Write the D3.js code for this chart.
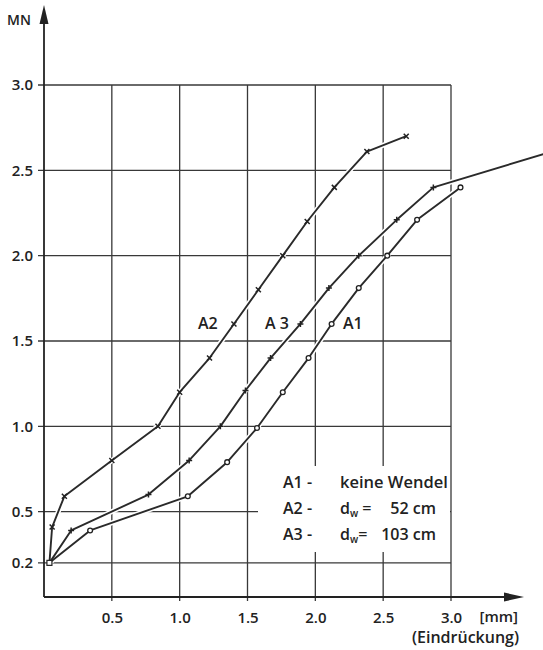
<!DOCTYPE html>
<html>
<head>
<meta charset="utf-8">
<script src="https://cdn.jsdelivr.net/npm/d3@7"></script>
<style>
  body { margin: 0; background: #fff; }
  svg { display: block; }
  text { font-family: "Open Sans", "Liberation Sans", sans-serif; font-weight: 600; fill: #222; }
</style>
</head>
<body>
<svg id="chart"></svg>
<script>
const width = 543
const height = 650

// tick values
const xTicks = [0.5, 1.0, 1.5, 2.0, 2.5, 3.0]
const yTicks = [0.2, 0.5, 1.0, 1.5, 2.0, 2.5, 3.0]

// curves (x in mm, y in MN)
const a1X = [0.04, 0.34, 1.06, 1.35, 1.57, 1.76, 1.95, 2.12, 2.32, 2.53, 2.75, 3.07]
const a1Y = [0.20, 0.39, 0.59, 0.79, 0.99, 1.20, 1.40, 1.60, 1.81, 2.00, 2.21, 2.40]
const a2X = [0.04, 0.06, 0.15, 0.50, 0.84, 1.00, 1.22, 1.40, 1.58, 1.76, 1.94, 2.14, 2.38, 2.67]
const a2Y = [0.20, 0.41, 0.59, 0.80, 1.00, 1.20, 1.40, 1.60, 1.80, 2.00, 2.20, 2.40, 2.61, 2.70]
const a3X = [0.04, 0.20, 0.77, 1.07, 1.30, 1.485, 1.67, 1.89, 2.10, 2.32, 2.60, 2.87, 3.68]
const a3Y = [0.20, 0.39, 0.60, 0.80, 1.00, 1.21, 1.40, 1.60, 1.81, 2.00, 2.21, 2.40, 2.595]

const series = [
  {name: 'A1', xs: a1X, ys: a1Y, marker: 'circle', markLast: true},
  {name: 'A2', xs: a2X, ys: a2Y, marker: 'cross', markLast: true},
  {name: 'A3', xs: a3X, ys: a3Y, marker: 'plus', markLast: false}
]

const legendLines = [
  ['A1', 'keine Wendel', null],
  ['A2', '52 cm', 'w'],
  ['A3', '103 cm', 'w']
]

const x = d3.scaleLinear().domain([0, 3]).range([44, 451])
const y = d3.scaleLinear().domain([0, 3]).range([597, 85])

const svg = d3.select('#chart')
  .attr('width', width)
  .attr('height', height)

svg.append('rect').attr('width', width).attr('height', height).attr('fill', '#fff')

const gridColor = '#383838'

// grid
svg.append('g')
  .selectAll('line')
  .data(yTicks)
  .join('line')
  .attr('x1', x(0) - 6)
  .attr('x2', x(3))
  .attr('y1', d => y(d))
  .attr('y2', d => y(d))
  .attr('stroke', gridColor)
  .attr('stroke-width', 1.3)

svg.append('g')
  .selectAll('line')
  .data(xTicks)
  .join('line')
  .attr('x1', d => x(d))
  .attr('x2', d => x(d))
  .attr('y1', y(0) + 4)
  .attr('y2', y(3))
  .attr('stroke', gridColor)
  .attr('stroke-width', 1.3)

// legend background hides part of the grid
svg.append('rect')
  .attr('x', 258).attr('y', 466)
  .attr('width', 192).attr('height', 86)
  .attr('fill', '#fff')

// axes with arrows
svg.append('line')
  .attr('x1', x(0)).attr('x2', x(0))
  .attr('y1', y(0)).attr('y2', 14)
  .attr('stroke', '#222').attr('stroke-width', 1.8)
svg.append('path')
  .attr('d', `M${x(0)},5 L${x(0) - 4.5},24 L${x(0) + 4.5},24 Z`)
  .attr('fill', '#222')

svg.append('line')
  .attr('x1', x(0)).attr('x2', 510)
  .attr('y1', y(0)).attr('y2', y(0))
  .attr('stroke', '#222').attr('stroke-width', 1.8)
svg.append('path')
  .attr('d', `M524,${y(0)} L504,${y(0) - 4.5} L504,${y(0) + 4.5} Z`)
  .attr('fill', '#222')

// tick labels through d3 axes
const yAxis = svg.append('g')
  .attr('transform', `translate(${x(0)},0)`)
  .call(d3.axisLeft(y).tickValues(yTicks).tickSize(0).tickPadding(11).tickFormat(d3.format('.1f')))
yAxis.select('.domain').remove()
yAxis.selectAll('text')
  .style('font-family', '"Open Sans", "Liberation Sans", sans-serif')
  .style('font-size', '15px').style('font-weight', '600').attr('fill', '#222')

const xAxis = svg.append('g')
  .attr('transform', `translate(0,${y(0)})`)
  .call(d3.axisBottom(x).tickValues(xTicks).tickSize(0).tickPadding(15).tickFormat(d3.format('.1f')))
xAxis.select('.domain').remove()
xAxis.selectAll('text')
  .style('font-family', '"Open Sans", "Liberation Sans", sans-serif')
  .style('font-size', '15px').style('font-weight', '600').attr('fill', '#222')

svg.append('text').attr('x', 7).attr('y', 25)
  .style('font-size', '14px').text('MN')
svg.append('text').attr('x', 518).attr('y', 622).attr('text-anchor', 'end')
  .style('font-size', '15px').text('[mm]')
svg.append('text').attr('x', 519).attr('y', 643).attr('text-anchor', 'end')
  .style('font-size', '16px').text('(Eindrückung)')

// curves
const line = d3.line().x(d => x(d[0])).y(d => y(d[1]))
const clip = svg.append('clipPath').attr('id', 'clip')
clip.append('rect').attr('width', width).attr('height', height)

series.forEach(s => {
  const pts = s.xs.map((v, i) => [v, s.ys[i]])
  s.pts = pts
  svg.append('path')
    .datum(pts)
    .attr('d', line)
    .attr('fill', 'none')
    .attr('stroke', '#fff')
    .attr('stroke-width', 5)
    .attr('clip-path', 'url(#clip)')
})
series.forEach(s => {
  svg.append('path')
    .datum(s.pts)
    .attr('d', line)
    .attr('fill', 'none')
    .attr('stroke', '#2a2a2a')
    .attr('stroke-width', 1.9)
    .attr('stroke-linejoin', 'round')
    .attr('clip-path', 'url(#clip)')
})

// markers
series.forEach(s => {
  const pts = s.markLast ? s.pts.slice(1) : s.pts.slice(1, -1)
  const g = svg.append('g')
  if (s.marker === 'circle') {
    g.selectAll('circle').data(pts).join('circle')
      .attr('cx', d => x(d[0])).attr('cy', d => y(d[1]))
      .attr('r', 2.4).attr('fill', '#fff')
      .attr('stroke', '#222').attr('stroke-width', 1.3)
  } else {
    const path = s.marker === 'cross' ? 'M-2.5,-2.5L2.5,2.5M-2.5,2.5L2.5,-2.5' : 'M-3,0L3,0M0,-3L0,3'
    g.selectAll('path').data(pts).join('path')
      .attr('transform', d => `translate(${x(d[0])},${y(d[1])})`)
      .attr('d', path)
      .attr('stroke', '#222').attr('stroke-width', 1.5)
  }
})
// shared start point
svg.append('rect')
  .attr('x', x(0.04) - 2.5).attr('y', y(0.2) - 2.5)
  .attr('width', 5).attr('height', 5)
  .attr('fill', '#fff').attr('stroke', '#222').attr('stroke-width', 1.2)

// curve labels
const curveLabels = [['A2', 198], ['A 3', 265], ['A1', 343]]
svg.append('g').selectAll('text').data(curveLabels).join('text')
  .attr('x', d => d[1]).attr('y', y(1.6) + 5)
  .style('font-size', '16px')
  .text(d => d[0])

// legend
const lg = svg.append('g')
legendLines.forEach((d, i) => {
  const yy = 488 + i * 26
  lg.append('text').attr('x', 283).attr('y', yy)
    .style('font-size', '16px')
    .text(d[0] + ' -')
  if (!d[2]) {
    lg.append('text').attr('x', 340).attr('y', yy)
      .style('font-size', '16.5px').text(d[1])
  } else {
    const t = lg.append('text').attr('x', 340).attr('y', yy)
      .style('font-size', '16px')
    t.append('tspan').text('d')
    t.append('tspan').attr('dy', 3).style('font-size', '10px').text(d[2])
    t.append('tspan').attr('dy', -3).text(i === 1 ? ' =' : '=')
    lg.append('text').attr('x', 436).attr('y', yy).attr('text-anchor', 'end')
      .style('font-size', '16px').text(d[1])
  }
})
</script>
</body>
</html>
